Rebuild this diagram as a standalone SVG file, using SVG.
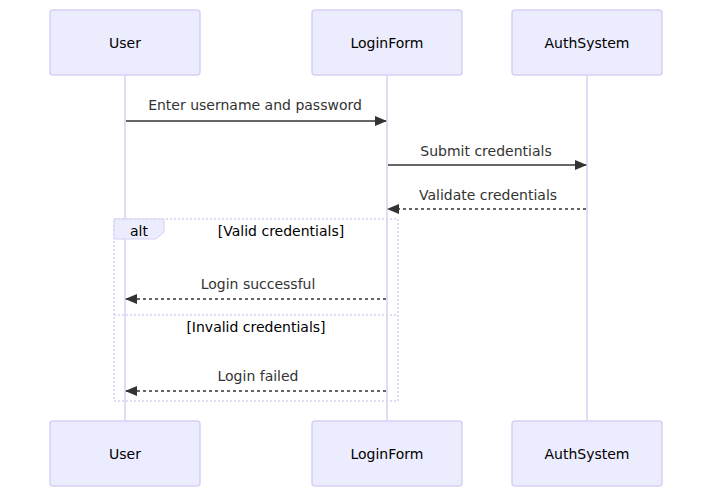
<svg xmlns="http://www.w3.org/2000/svg" width="712" height="497" viewBox="0 0 712 497">
<defs>
<style>
.actor{fill:#ECECFF;stroke:#D7D0F2;stroke-width:1.5}
.life{stroke:#D7D0F2;stroke-width:1.5}
.t{font-family:"DejaVu Sans",Verdana,sans-serif;font-size:14px;fill:#333;text-anchor:middle;dominant-baseline:central}
.at{font-family:"DejaVu Sans",Verdana,sans-serif;font-size:14px;fill:#000;text-anchor:middle;dominant-baseline:central}
.msg{stroke:#333;stroke-width:1.5;fill:none}
.dash{stroke-dasharray:3,3}
.loop{stroke:#D7D0F2;stroke-width:1.5;fill:none;stroke-dasharray:2,2}
</style>
<marker id="ah" viewBox="0 0 12 10" refX="11" refY="5" markerWidth="12" markerHeight="10" markerUnits="userSpaceOnUse" orient="auto">
<path d="M0,0 L12,5 L0,10 z" fill="#333"/>
</marker>
</defs>
<rect width="712" height="497" fill="#fff"/>
<g id="lifelines">
<line class="life" x1="125" y1="75" x2="125" y2="421"/>
<line class="life" x1="387" y1="75" x2="387" y2="421"/>
<line class="life" x1="587" y1="75" x2="587" y2="421"/>
</g>
<g id="actor-user-top"><rect class="actor" x="50" y="10" width="150" height="65" rx="3"/><text class="at" x="125" y="43">User</text></g>
<g id="actor-loginform-top"><rect class="actor" x="312" y="10" width="150" height="65" rx="3"/><text class="at" x="387" y="43">LoginForm</text></g>
<g id="actor-auth-top"><rect class="actor" x="512" y="10" width="150" height="65" rx="3"/><text class="at" x="587" y="43">AuthSystem</text></g>
<g id="actor-user-bottom"><rect class="actor" x="50" y="421" width="150" height="65" rx="3"/><text class="at" x="125" y="454">User</text></g>
<g id="actor-loginform-bottom"><rect class="actor" x="312" y="421" width="150" height="65" rx="3"/><text class="at" x="387" y="454">LoginForm</text></g>
<g id="actor-auth-bottom"><rect class="actor" x="512" y="421" width="150" height="65" rx="3"/><text class="at" x="587" y="454">AuthSystem</text></g>
<g id="alt-block">
<rect class="loop" x="114" y="219" width="284" height="182"/>
<path d="M114,219 L164,219 L164,232 L156,239 L114,239 z" fill="#ECECFF" stroke="#D7D0F2" stroke-width="1"/>
<text class="at" x="139" y="231">alt</text>
<text class="at" x="281" y="231">[Valid credentials]</text>
<line class="loop" x1="114" y1="315" x2="398" y2="315"/>
<text class="at" x="256" y="327">[Invalid credentials]</text>
</g>
<g id="connectors">
<line class="msg" x1="126" y1="121" x2="386" y2="121" marker-end="url(#ah)"/>
<text class="t" x="255" y="105">Enter username and password</text>
<line class="msg" x1="388" y1="165" x2="586" y2="165" marker-end="url(#ah)"/>
<text class="t" x="486" y="151">Submit credentials</text>
<line class="msg dash" x1="586" y1="209" x2="388" y2="209" marker-end="url(#ah)"/>
<text class="t" x="488" y="195">Validate credentials</text>
<line class="msg dash" x1="386" y1="299" x2="126" y2="299" marker-end="url(#ah)"/>
<text class="t" x="258" y="284">Login successful</text>
<line class="msg dash" x1="386" y1="391" x2="126" y2="391" marker-end="url(#ah)"/>
<text class="t" x="258" y="376">Login failed</text>
</g>
</svg>
